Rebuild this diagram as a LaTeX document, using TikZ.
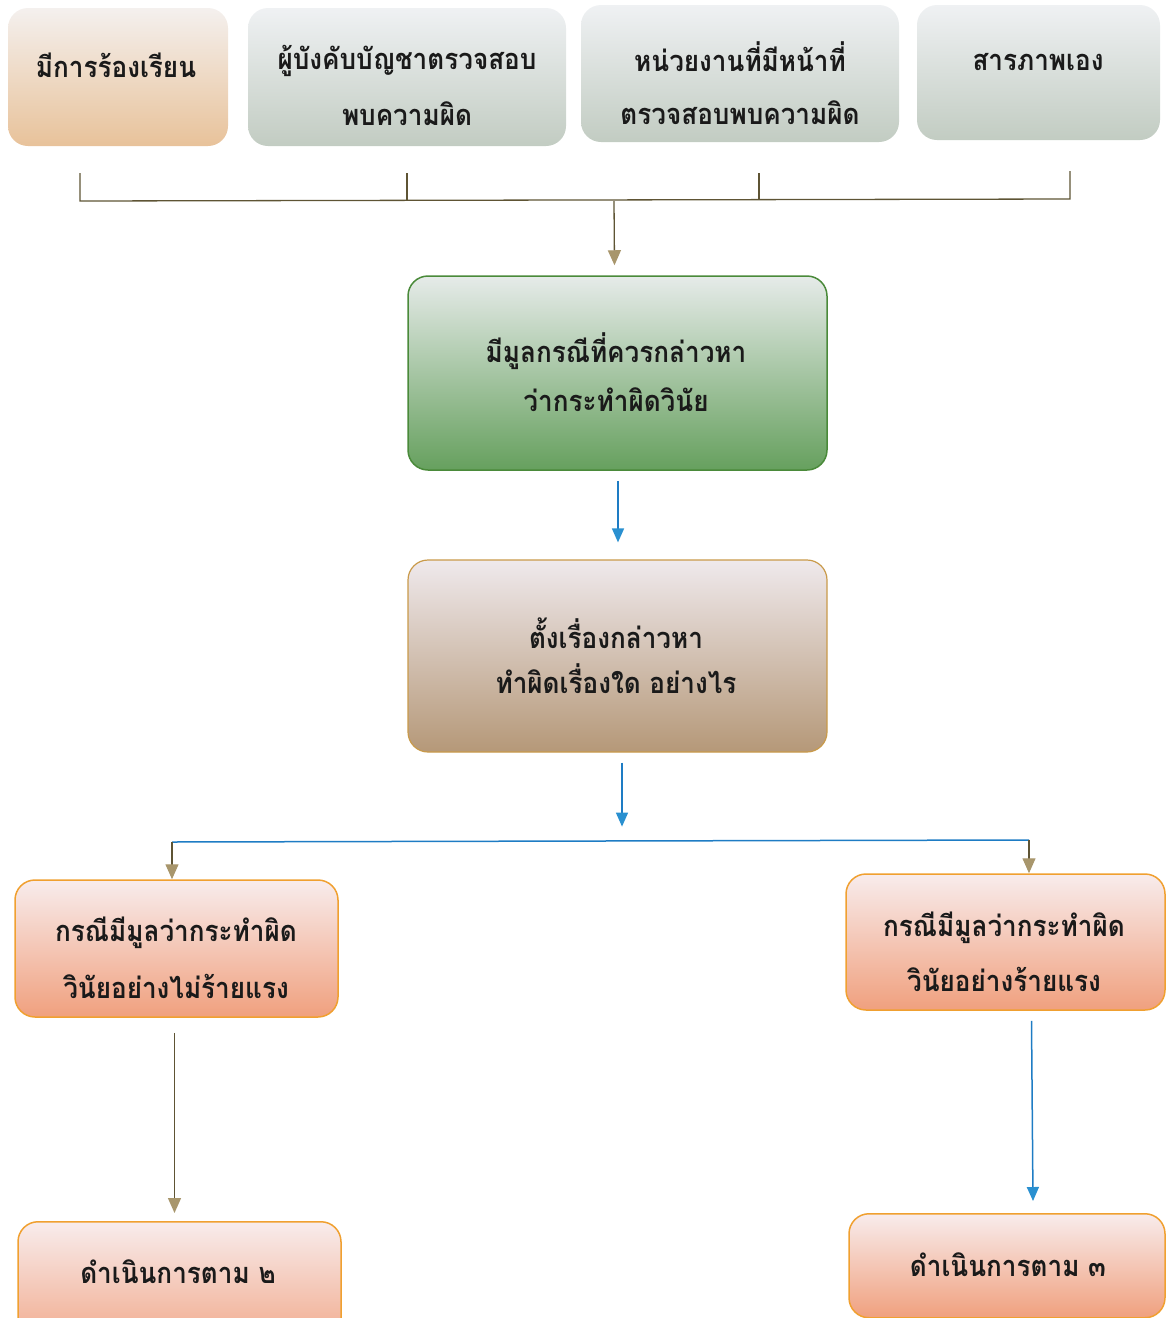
\documentclass[tikz,border=0pt]{standalone}
\usepackage{fontspec}
\newfontfamily\thaifont[Script=Thai,FakeStretch=0.9]{Loma}
\usetikzlibrary{arrows.meta,calc}
\definecolor{txt}{HTML}{1A1A1A}
\definecolor{peachT}{HTML}{F4F0EE}
\definecolor{peachB}{HTML}{E8C29A}
\definecolor{grayT}{HTML}{EFF1F3}
\definecolor{grayB}{HTML}{C2CCC2}
\definecolor{greenT}{HTML}{E6EBE9}
\definecolor{greenB}{HTML}{66A05E}
\definecolor{greenD}{HTML}{4A8A3A}
\definecolor{tanT}{HTML}{EFE9EC}
\definecolor{tanB}{HTML}{B59878}
\definecolor{tanD}{HTML}{C99A4A}
\definecolor{salT}{HTML}{F8ECEC}
\definecolor{salB}{HTML}{F0A07E}
\definecolor{orgD}{HTML}{F0A030}
\definecolor{oliveL}{HTML}{5E5434}
\definecolor{headT}{HTML}{A8966C}
\definecolor{blueL}{HTML}{1E7CC4}
\definecolor{blueH}{HTML}{2A90D0}
\tikzset{
  box/.style={rounded corners=20pt, inner sep=0pt},
  topbox/.style={box, draw=none},
  lbl/.style={align=center, text=txt, inner sep=0pt,
    font=\thaifont\bfseries\fontsize{29}{30}\selectfont},
  olv/.style={draw=oliveL, line width=1.3pt},
  olvarr/.style={olv, -{Triangle[length=15pt,width=13pt,color=headT,fill=headT]}},
  bluarr/.style={draw=blueL, line width=1.5pt, -{Triangle[length=14pt,width=12pt,color=blueH,fill=blueH]}},
}
\begin{document}
\begin{tikzpicture}[x=1pt,y=-1pt]
\useasboundingbox (0,0) rectangle (1167,1318);
% top row
\node[topbox, top color=peachT, bottom color=peachB, minimum width=220pt, minimum height=138pt] (a1) at (118,77) {};
\node[lbl] (a1t) at (116,65) {มีการร้องเรียน};
\node[topbox, top color=grayT, bottom color=grayB, minimum width=318pt, minimum height=138pt] (a2) at (407,77) {};
\node[lbl] (a2t) at (407,85.5) {ผู้บังคับบัญชาตรวจสอบ\\[24pt]พบความผิด};
\node[topbox, top color=grayT, bottom color=grayB, minimum width=318pt, minimum height=137pt] (a3) at (740,73.5) {};
\node[lbl] (a3t) at (740,83) {หน่วยงานที่มีหน้าที่\\[23pt]ตรวจสอบพบความผิด};
\node[topbox, top color=grayT, bottom color=grayB, minimum width=243pt, minimum height=135pt] (a4) at (1038.5,72.5) {};
\node[lbl] (a4t) at (1038,62) {สารภาพเอง};
% junction
\coordinate (j1) at (80,173);
\coordinate (j2) at (407,173);
\coordinate (j3) at (759,173);
\coordinate (j4) at (1070,171);
\coordinate (h1) at (80,201);
\coordinate (h4) at (1070,199);
\coordinate (hm) at (614,201);
\draw[olv] (j1) -- (h1) -- (h4) -- (j4);
\draw[olv] (j2) -- (407,201);
\draw[olv] (j3) -- (759,200);
% green
\node[box, draw=greenD, line width=1.5pt, top color=greenT, bottom color=greenB, minimum width=419pt, minimum height=194pt] (g) at (617.5,373) {};
\node[lbl] (gt) at (616,372) {มีมูลกรณีที่ควรกล่าวหา\\[17pt]ว่ากระทำผิดวินัย};
\draw[olvarr] (hm) -- ($(g.north)+(-3,-10)$);
% tan
\node[box, draw=tanD, line width=1.2pt, top color=tanT, bottom color=tanB, minimum width=419pt, minimum height=192pt] (t) at (617.5,656) {};
\node[lbl] (tt) at (616,656) {ตั้งเรื่องกล่าวหา\\[15pt]ทำผิดเรื่องใด อย่างไร};
\draw[bluarr] ($(g.south)+(0.5,10)$) -- ($(t.north)+(0.5,-17)$);
\draw[bluarr] ($(t.south)+(4.5,10)$) -- ($(t.south)+(4.5,74)$);
% lower split
\node[box, draw=orgD, line width=1.5pt, top color=salT, bottom color=salB, minimum width=323pt, minimum height=137pt] (l) at (176.5,948.5) {};
\node[lbl] (lt) at (176,958) {กรณีมีมูลว่ากระทำผิด\\[25pt]วินัยอย่างไม่ร้ายแรง};
\node[box, draw=orgD, line width=1.5pt, top color=salT, bottom color=salB, minimum width=319pt, minimum height=136pt] (r) at (1005.5,942) {};
\node[lbl] (rt) at (1004,952) {กรณีมีมูลว่ากระทำผิด\\[23pt]วินัยอย่างร้ายแรง};
\coordinate (sl) at (172,842);
\coordinate (sr) at (1029,840);
\draw[draw=blueL, line width=1.5pt] (sl) -- (sr);
\draw[olvarr] (sl) -- (l.north -| sl);
\draw[olvarr] (sr) -- (r.north -| sr);
% bottom
\node[box, draw=orgD, line width=1.5pt, top color=salT, bottom color=salB, minimum width=323pt, minimum height=140pt, anchor=north] (bl) at (179.5,1221) {};
\node[lbl] (blt) at (178,1272) {ดำเนินการตาม ๒};
\node[box, draw=orgD, line width=1.5pt, top color=salT, bottom color=salB, minimum width=316pt, minimum height=104pt, anchor=north] (br) at (1007,1213) {};
\node[lbl] (brt) at (1008,1265) {ดำเนินการตาม ๓};
\draw[olvarr] ($(l.south)+(-2,15)$) -- ($(bl.north)+(-5,-8)$);
\draw[bluarr] ($(r.south)+(26,10)$) -- ($(br.north)+(26,-12)$);
\end{tikzpicture}
\end{document}
